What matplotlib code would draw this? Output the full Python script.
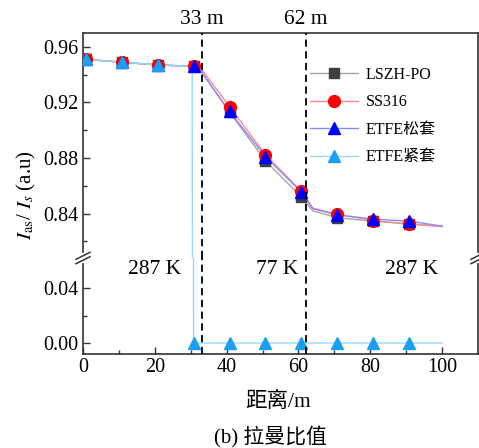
import numpy as np
import matplotlib
matplotlib.use("Agg")
import matplotlib.pyplot as plt
from matplotlib.lines import Line2D

plt.rcParams['font.family'] = ['Liberation Serif', 'Noto Sans CJK SC']
plt.rcParams['mathtext.fontset'] = 'stix'

# ---------------------------------------------------------------------
# data
# ---------------------------------------------------------------------
x_line = [0.8, 10.8, 20.8, 30.8, 33, 40.8, 50.8, 60.8, 64, 70.8, 80.8, 90.8, 100]
lszh   = [0.951, 0.949, 0.947, 0.946, 0.942, 0.913, 0.878, 0.852, 0.842, 0.837, 0.8345, 0.8325, 0.831]
ss316  = [0.951, 0.949, 0.947, 0.946, 0.944, 0.917, 0.8825, 0.856, 0.844, 0.8395, 0.835, 0.8325, 0.8305]
etfe_loose = [0.951, 0.949, 0.947, 0.946, 0.942, 0.9135, 0.881, 0.8555, 0.8435, 0.839, 0.836, 0.8345, 0.831]
mark_idx = [0, 1, 2, 3, 5, 6, 7, 9, 10, 11]

x_tight = [0.8, 10.8, 20.8, 30.4, 30.8, 40.8, 50.8, 60.8, 70.8, 80.8, 90.8, 100]
etfe_tight = [0.951, 0.949, 0.947, 0.946, 0.0, 0.0, 0.0, 0.0, 0.0, 0.0, 0.0, 0.0]
mark_idx_tight = [0, 1, 2, 4, 5, 6, 7, 8, 9, 10]

labels = ['LSZH-PO', 'SS316', 'ETFE松套', 'ETFE紧套']
zones = [(20, '287 K'), (54, '77 K'), (91.5, '287 K')]
splits = [33, 62]

W, H = 479, 448
fig = plt.figure(figsize=(W / 100, H / 100), dpi=100)

def fx(px):
    return px / W

def fy(py):
    return 1 - py / H

left, right = 83, 478
top, brk, bottom = 33, 258, 354
ax_top = fig.add_axes([fx(left), fy(brk), fx(right - left), fy(top) - fy(brk)])
ax_bot = fig.add_axes([fx(left), fy(bottom), fx(right - left), fy(brk) - fy(bottom)], sharex=ax_top)

spine_c = '#333333'
series = [
    (x_line, lszh, '#a6a6a6', '#3f3f3f', 's', 7.5, mark_idx),
    (x_line, ss316, '#ff8c8c', '#ff0000', 'o', 8.5, mark_idx),
    (x_line, etfe_loose, '#8a8aff', '#0000ff', '^', 9, mark_idx),
    (x_tight, etfe_tight, '#9ad8ff', '#1a9ff5', '^', 9, mark_idx_tight),
]

handles = []
for ax in (ax_top, ax_bot):
    for xs, ys, lc, mc, m, ms, idx in series:
        ax.plot(xs, ys, '-', color=lc, lw=1.0, zorder=2)
        ax.plot([xs[i] for i in idx], [ys[i] for i in idx], m, color=mc,
                ms=ms, mec=mc, zorder=3)
    for s in splits:
        ax.axvline(s, color='black', lw=1.3, ls=(0, (4, 2.5)), zorder=4)

for (xs, ys, lc, mc, m, ms, idx), lab in zip(series, labels):
    handles.append(Line2D([], [], color=lc, lw=1.0, marker=m, ms=ms, mfc=mc, mec=mc, label=lab))

ax_top.set_ylim(0.808, 0.97)
ax_bot.set_ylim(-0.008, 0.062)
ax_top.set_xlim(0, 110)

ax_top.set_yticks([0.84, 0.88, 0.92, 0.96])
ax_top.set_yticks([0.82, 0.86, 0.90, 0.94], minor=True)
ax_bot.set_yticks([0.00, 0.04])
ax_bot.set_yticks([0.02], minor=True)
ax_bot.set_xticks([0, 20, 40, 60, 80, 100])
ax_bot.set_xticks([10, 30, 50, 70, 90], minor=True)
ax_top.yaxis.set_major_formatter(matplotlib.ticker.FormatStrFormatter('%.2f'))
ax_bot.yaxis.set_major_formatter(matplotlib.ticker.FormatStrFormatter('%.2f'))

for ax in (ax_top, ax_bot):
    for sp in ax.spines.values():
        sp.set_color(spine_c)
        sp.set_linewidth(1.2)
    ax.tick_params(which='both', direction='in', color=spine_c, width=1.0,
                   labelsize=14.5, pad=3, top=False, right=False)
    ax.tick_params(which='major', length=5)
    ax.tick_params(which='minor', length=3)
ax_top.spines['bottom'].set_visible(False)
ax_bot.spines['top'].set_visible(False)
ax_top.tick_params(axis='x', which='both', bottom=False, labelbottom=False)

# labels and notes
for s in splits:
    ax_top.text(s, 1.058, f'{s} m', transform=ax_top.get_xaxis_transform(),
                ha='center', va='center', fontsize=15.5)
for xz, t in zones:
    ax_bot.text(xz, 0.0535, t, ha='center', va='center', fontsize=15.5)

fig.text(fx(26), fy(195), r'$I_{\mathrm{as}}$/ $I_s$ (a.u)', rotation=90,
         ha='center', va='center', fontsize=15)
fig.text(fx(278), fy(402), '距离/m', ha='center', va='center', fontsize=15.5)
fig.text(fx(270), fy(437), '(b) 拉曼比值', ha='center', va='center', fontsize=15)

ax_top.legend(handles=handles, loc='upper left', bbox_to_anchor=(fx(310), fy(67)),
              bbox_transform=fig.transFigure, frameon=False, fontsize=11.5,
              borderpad=0, borderaxespad=0, handlelength=3.0, handletextpad=0.5,
              labelspacing=0.72)

# axis break marks
for xs in (left, right):
    fig.add_artist(Line2D([fx(xs), fx(xs)], [fy(brk - 2.5), fy(brk + 2.5)],
                          color='white', lw=3, zorder=10))
    for dy in (-2.2, 2.2):
        fig.add_artist(Line2D([fx(xs - 7), fx(xs + 7)],
                              [fy(brk + dy + 3.5), fy(brk + dy - 3.5)],
                              color=spine_c, lw=1.1, zorder=11))

fig.savefig('out.png', dpi=100)
